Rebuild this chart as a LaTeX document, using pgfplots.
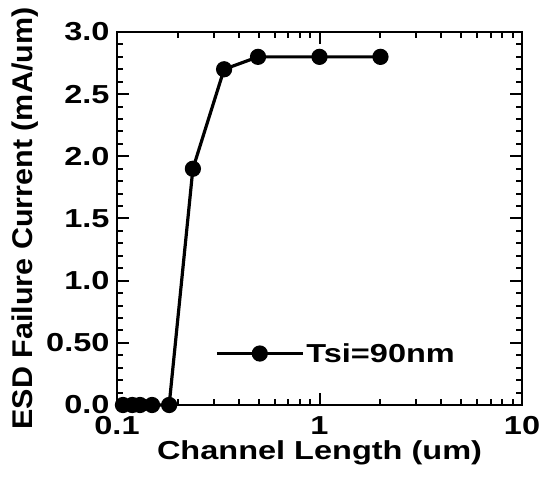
\documentclass[border=0pt]{standalone}
\usepackage{fontspec}
\setmainfont{Liberation Sans}
\newfontfamily\wideface[FakeStretch=1.25]{Liberation Sans}
\newfontfamily\ylabface[FakeStretch=1.07]{Liberation Sans}
\usepackage{pgfplots}
\pgfplotsset{compat=1.18}

\newcommand\tickfont{\wideface\bfseries\fontsize{26}{30}\selectfont}
\newcommand\ylabfont{\ylabface\bfseries\fontsize{28.5}{32}\selectfont}

\begin{document}
\begin{tikzpicture}
\begin{axis}[
  scale only axis, width=405pt, height=373pt,
  xmode=log, xmin=0.1, xmax=10, ymin=0, ymax=3,
  xtick={0.1,1,10}, xticklabels={0.1,1,10},
  ytick={0,0.5,...,3}, yticklabels={0.0,0.50,1.0,1.5,2.0,2.5,3.0},
  minor y tick num=4,
  tick align=inside,
  major tick length=12pt, minor tick length=6pt,
  axis line style={line width=2.5pt},
  tick style={line width=2pt, black},
  tick label style={font=\tickfont},
  yticklabel style={xshift=-4pt},
  xticklabel style={yshift=-8pt},
  /pgf/number format/assume math mode=true,
  xlabel={Channel Length (um)},
  ylabel={ESD Failure Current (mA/um)},
  xlabel style={font=\tickfont, at={([yshift=-54pt]axis description cs:0.5,0)}, anchor=base},
  ylabel style={font=\ylabfont, at={([xshift=-84pt]axis description cs:0,0.5)}, anchor=base},
  clip=false,
  legend style={draw=none, fill=none, font=\tickfont, inner sep=0pt,
    at={(axis description cs:0.242,0.138)}, anchor=west},
  legend image code/.code={\draw[mark repeat=2,mark phase=2]
    plot coordinates {(0pt,0pt) (43pt,0pt) (86pt,0pt)};},
]
\addplot[black, line width=3.2pt, mark=*, mark size=6.5pt, mark options={solid}]
  coordinates {(0.107,0) (0.119,0) (0.13,0) (0.149,0) (0.181,0)
  (0.237,1.9) (0.338,2.7) (0.497,2.8) (1,2.8) (2,2.8)};
\addlegendentry{Tsi=90nm}
\end{axis}
\path (current axis.south west) ++(-117pt,-74pt) rectangle ++(548pt,479pt);
\end{tikzpicture}
\end{document}
